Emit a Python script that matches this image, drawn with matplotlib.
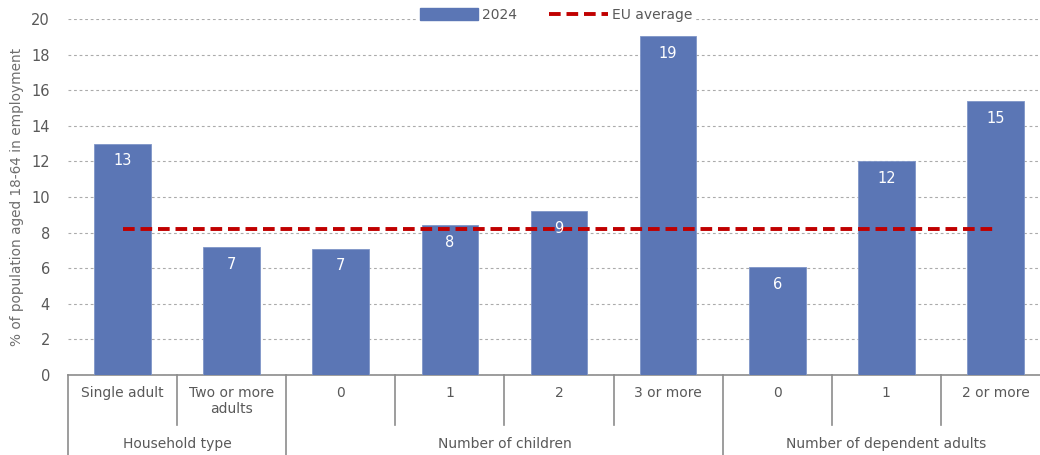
import matplotlib
matplotlib.use("Agg")
import matplotlib.pyplot as plt
from matplotlib.lines import Line2D
from matplotlib.patches import Patch

# Sub-categories and their parent groups
categories = ["Single adult", "Two or more\nadults", "0", "1", "2", "3 or more", "0", "1", "2 or more"]
groups = ["Household type", "Number of children", "Number of dependent adults"]
group_sizes = [2, 4, 3]

# Share of population aged 18-64 in employment (%), 2024
values_2024 = [13.0, 7.2, 7.1, 8.4, 9.2, 19.05, 6.05, 12.0, 15.4]
eu_average = 8.2

bar_color = "#5B76B5"
avg_color = "#C00000"
text_gray = "#595959"
grid_gray = "#ABABAB"
frame_gray = "#8C8C8C"

plt.rcParams["font.family"] = ["DejaVu Sans"]

fig = plt.figure(figsize=(10.40, 4.55), dpi=100)
W, H = 1040, 455
left_px, right_px, top_px, bottom_px = 68, 1050, 19, 375
ax = fig.add_axes([left_px / W, 1 - bottom_px / H,
                   (right_px - left_px) / W, (bottom_px - top_px) / H])

x = list(range(len(categories)))
bars = ax.bar(x, values_2024, width=0.52, color=bar_color,
              edgecolor="#7F95C8", linewidth=0.6, zorder=3, label="2024")
ax.plot(x, [eu_average] * len(x), color=avg_color, linestyle=(0, (3.0, 1.5)),
        linewidth=2.8, zorder=4, label="EU average")

for xi, v in zip(x, values_2024):
    ax.text(xi, v - 0.55, f"{v:.0f}", ha="center", va="top", color="white",
            fontsize=10.5, zorder=5)

ax.set_xlim(-0.5, len(categories) - 0.5)
ax.set_ylim(0, 20)
ax.set_yticks(range(0, 21, 2))
ax.yaxis.grid(True, color=grid_gray, linestyle=(0, (2.5, 2.5)), linewidth=0.8, zorder=0)
ax.set_axisbelow(True)
ax.tick_params(axis="y", length=0, pad=13, labelsize=10.5, labelcolor=text_gray)
ax.set_xticks([])
for side in ("left", "right", "top"):
    ax.spines[side].set_visible(False)
ax.spines["bottom"].set_color(frame_gray)
ax.spines["bottom"].set_linewidth(1.2)

ax.set_ylabel("% of population aged 18-64 in employment", color="#6E6E6E",
              fontsize=9.8, labelpad=5)

# Two-level category axis
ppu = bottom_px - top_px
short_end = -(425 - bottom_px) / ppu
long_end = -(H - bottom_px) / ppu
row1_y = -(386 - bottom_px) / ppu
row2_y = -(444 - bottom_px) / ppu
trans = ax.get_xaxis_transform()

for xi, label in zip(x, categories):
    ax.text(xi, row1_y, label, transform=trans, ha="center", va="top",
            fontsize=10, color=text_gray, linespacing=1.2)

group_edges = [-0.5]
for size in group_sizes:
    group_edges.append(group_edges[-1] + size)

for b in [i - 0.5 for i in range(len(categories))]:
    is_group_edge = any(abs(b - g) < 1e-9 for g in group_edges)
    end = long_end if is_group_edge else short_end
    ax.add_line(Line2D([b, b], [0, end], transform=trans, color=frame_gray,
                       linewidth=1.2, clip_on=False))

for name, start, end in zip(groups, group_edges[:-1], group_edges[1:]):
    ax.text((start + end) / 2, row2_y, name, transform=trans, ha="center",
            va="center", fontsize=10, color=text_gray)

handles = [Patch(facecolor=bar_color, edgecolor=bar_color),
           Line2D([0], [0], color=avg_color, linestyle=(0, (3.0, 1.5)), linewidth=2.8)]
leg = fig.legend(handles, ["2024", "EU average"], loc="center",
                 bbox_to_anchor=(556 / W, 1 - 15 / H), ncol=2, frameon=True,
                 fontsize=10, handlelength=4.2, handleheight=0.9,
                 columnspacing=2.3, handletextpad=0.3, borderpad=0.15)
leg.get_frame().set_edgecolor("white")
leg.get_frame().set_facecolor("white")
leg.get_frame().set_alpha(1)
for t in leg.get_texts():
    t.set_color(text_gray)

fig.savefig("out.png", dpi=100)
